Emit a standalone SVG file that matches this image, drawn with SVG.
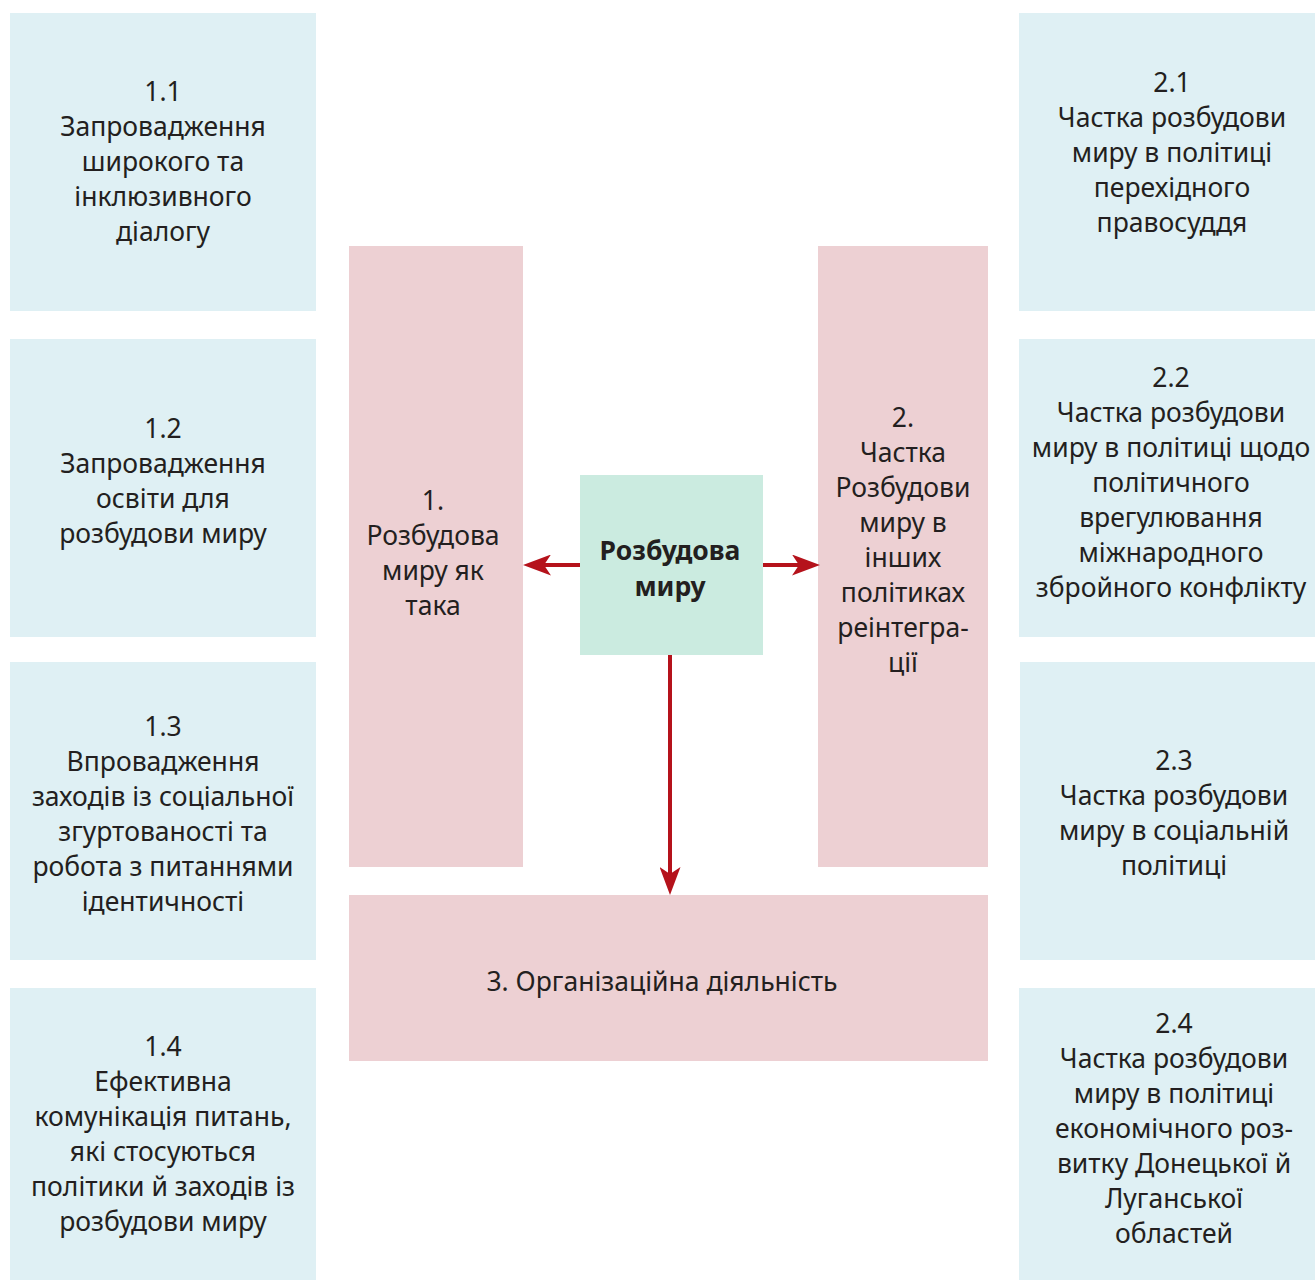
<svg xmlns="http://www.w3.org/2000/svg" width="1315" height="1280" viewBox="0 0 1315 1280">
<defs>
<style>
.blue{fill:#DFF0F4}
.pink{fill:#EDD0D3}
.green{fill:#CBEBE0}
text{font-family:"Noto Sans","Liberation Sans",sans-serif;font-size:26.5px;fill:#231F20;text-anchor:middle}
.b{font-weight:bold}
.c{stroke:#B5121B;stroke-width:4;fill:none}
</style>
<marker id="ah" viewBox="0 0 28 21" refX="7" refY="10.5" markerWidth="28" markerHeight="21" orient="auto" markerUnits="userSpaceOnUse">
<path d="M0,0 L28,10.5 L0,21 L7,10.5 Z" fill="#B5121B"/>
</marker>
</defs>
<g id="n11"><rect class="blue" x="10" y="13" width="306" height="298"/>
<text x="163" y="101">1.1</text><text x="163" y="136">Запровадження</text><text x="163" y="171">широкого та</text><text x="163" y="206">інклюзивного</text><text x="163" y="241">діалогу</text></g>
<g id="n12"><rect class="blue" x="10" y="339" width="306" height="298"/>
<text x="163" y="438">1.2</text><text x="163" y="473">Запровадження</text><text x="163" y="508">освіти для</text><text x="163" y="543">розбудови миру</text></g>
<g id="n13"><rect class="blue" x="10" y="662" width="306" height="298"/>
<text x="163" y="736">1.3</text><text x="163" y="771">Впровадження</text><text x="163" y="806">заходів із соціальної</text><text x="163" y="841">згуртованості та</text><text x="163" y="876">робота з питаннями</text><text x="163" y="911">ідентичності</text></g>
<g id="n14"><rect class="blue" x="10" y="988" width="306" height="292"/>
<text x="163" y="1056">1.4</text><text x="163" y="1091">Ефективна</text><text x="163" y="1126">комунікація питань,</text><text x="163" y="1161">які стосуються</text><text x="163" y="1196">політики й заходів із</text><text x="163" y="1231">розбудови миру</text></g>
<g id="n21"><rect class="blue" x="1019" y="13" width="296" height="298"/>
<text x="1172" y="92">2.1</text><text x="1172" y="127">Частка розбудови</text><text x="1172" y="162">миру в політиці</text><text x="1172" y="197">перехідного</text><text x="1172" y="232">правосуддя</text></g>
<g id="n22"><rect class="blue" x="1019" y="339" width="296" height="298"/>
<text x="1171" y="387">2.2</text><text x="1171" y="422">Частка розбудови</text><text x="1171" y="457">миру в політиці щодо</text><text x="1171" y="492">політичного</text><text x="1171" y="527">врегулювання</text><text x="1171" y="562">міжнародного</text><text x="1171" y="597">збройного конфлікту</text></g>
<g id="n23"><rect class="blue" x="1020" y="662" width="295" height="298"/>
<text x="1174" y="770">2.3</text><text x="1174" y="805">Частка розбудови</text><text x="1174" y="840">миру в соціальній</text><text x="1174" y="875">політиці</text></g>
<g id="n24"><rect class="blue" x="1019" y="988" width="296" height="292"/>
<text x="1174" y="1033">2.4</text><text x="1174" y="1068">Частка розбудови</text><text x="1174" y="1103">миру в політиці</text><text x="1174" y="1138">економічного роз-</text><text x="1174" y="1173">витку Донецької й</text><text x="1174" y="1208">Луганської</text><text x="1174" y="1243">областей</text></g>
<g id="n1"><rect class="pink" x="349" y="246" width="174" height="621"/>
<text x="433" y="510">1.</text><text x="433" y="545">Розбудова</text><text x="433" y="580">миру як</text><text x="433" y="615">така</text></g>
<g id="n2"><rect class="pink" x="818" y="246" width="170" height="621"/>
<text x="903" y="427">2.</text><text x="903" y="462">Частка</text><text x="903" y="497">Розбудови</text><text x="903" y="532">миру в</text><text x="903" y="567">інших</text><text x="903" y="602">політиках</text><text x="903" y="637">реінтегра-</text><text x="903" y="672">ції</text></g>
<g id="n3"><rect class="pink" x="349" y="895" width="639" height="166"/>
<text x="662" y="991">3. Організаційна діяльність</text></g>
<g id="n0"><rect class="green" x="580" y="475" width="183" height="180"/>
<text class="b" x="670" y="560">Розбудова</text><text class="b" x="670" y="596">миру</text></g>
<g id="connectors">
<line class="c" x1="580" y1="565" x2="544" y2="565" marker-end="url(#ah)"/>
<line class="c" x1="763" y1="565" x2="799" y2="565" marker-end="url(#ah)"/>
<line class="c" x1="670" y1="655" x2="670" y2="874" marker-end="url(#ah)"/>
</g>
</svg>
